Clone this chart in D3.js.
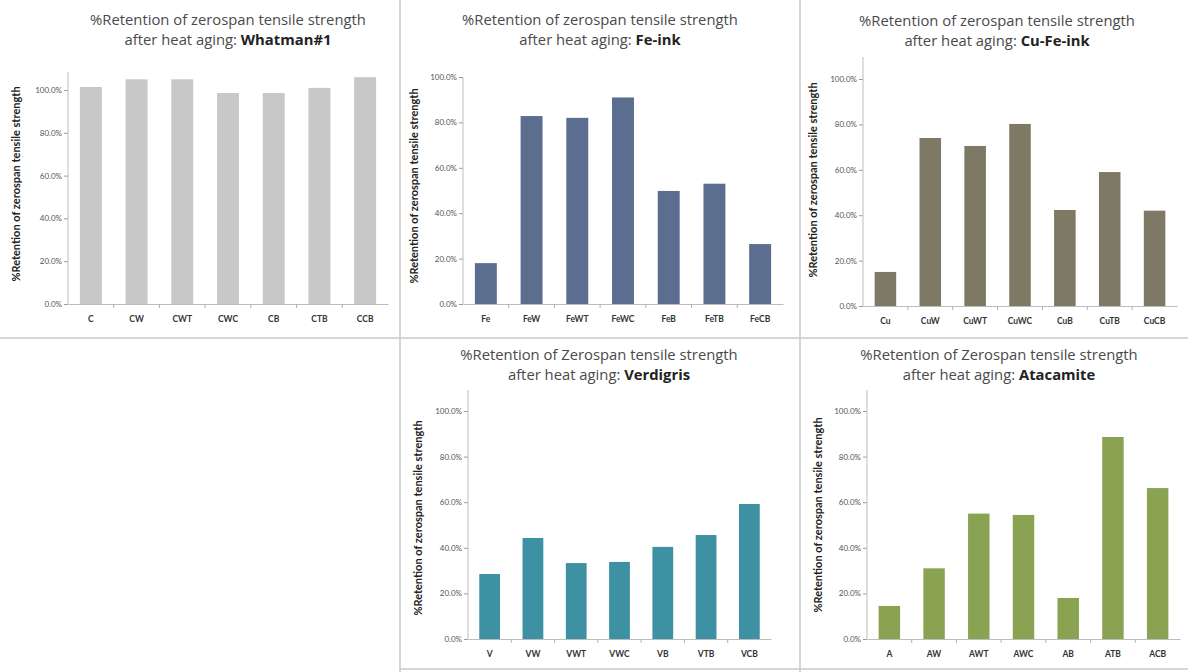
<!DOCTYPE html>
<html>
<head>
<meta charset="utf-8">
<script src="https://cdn.jsdelivr.net/npm/d3@7"></script>
<style>
  html, body { margin: 0; padding: 0; background: #ffffff; }
  svg { display: block; }
</style>
</head>
<body>
<svg id="chart" width="1188" height="672"></svg>
<script>
// ---------------- DATA ----------------
const yTickValues = [0, 0.2, 0.4, 0.6, 0.8, 1.0];

const whatmanCategories = ["C", "CW", "CWT", "CWC", "CB", "CTB", "CCB"];
const whatmanValues = [1.014, 1.05, 1.05, 0.986, 0.986, 1.01, 1.06];

const feCategories = ["Fe", "FeW", "FeWT", "FeWC", "FeB", "FeTB", "FeCB"];
const feValues = [0.18, 0.828, 0.82, 0.91, 0.498, 0.53, 0.264];

const cuFeCategories = ["Cu", "CuW", "CuWT", "CuWC", "CuB", "CuTB", "CuCB"];
const cuFeValues = [0.15, 0.74, 0.705, 0.802, 0.423, 0.59, 0.42];

const verdigrisCategories = ["V", "VW", "VWT", "VWC", "VB", "VTB", "VCB"];
const verdigrisValues = [0.285, 0.443, 0.333, 0.338, 0.404, 0.456, 0.592];

const atacamiteCategories = ["A", "AW", "AWT", "AWC", "AB", "ATB", "ACB"];
const atacamiteValues = [0.145, 0.31, 0.55, 0.544, 0.18, 0.886, 0.662];

const titleLine1 = ["%Retention of zerospan tensile strength",
                    "%Retention of zerospan tensile strength",
                    "%Retention of zerospan tensile strength",
                    "%Retention of Zerospan tensile strength",
                    "%Retention of Zerospan tensile strength"];
const titlePrefix = "after heat aging: ";
const materialNames = ["Whatman#1", "Fe-ink", "Cu-Fe-ink", "Verdigris", "Atacamite"];
const yAxisTitle = "%Retention of zerospan tensile strength";

// ---------------- LAYOUT / STYLE ----------------
const panels = [
  { cats: whatmanCategories, vals: whatmanValues, color: "#c8c8c8",
    x0: 68, x1: 388, yZero: 304, yFull: 90, axisTop: 72, yTitleX: 15, yTitleY: 184, tcx: 228, ty: 25 },
  { cats: feCategories, vals: feValues, color: "#5c6e8f",
    x0: 463, x1: 783, yZero: 304, yFull: 77, axisTop: 77, yTitleX: 413, yTitleY: 186, tcx: 600, ty: 25 },
  { cats: cuFeCategories, vals: cuFeValues, color: "#7e7964",
    x0: 863, x1: 1177, yZero: 306, yFull: 79, axisTop: 57, yTitleX: 812, yTitleY: 180, tcx: 997, ty: 26 },
  { cats: verdigrisCategories, vals: verdigrisValues, color: "#3d91a3",
    x0: 468, x1: 771, yZero: 639, yFull: 411, axisTop: 390, yTitleX: 417, yTitleY: 518, tcx: 599, ty: 360 },
  { cats: atacamiteCategories, vals: atacamiteValues, color: "#8aa352",
    x0: 867, x1: 1180, yZero: 639, yFull: 411, axisTop: 390, yTitleX: 817, yTitleY: 515, tcx: 999, ty: 360 }
];

const svg = d3.select("#chart");
const fontFam = "Lato, 'Liberation Sans', Arial, sans-serif";
const titleFam = "'Open Sans', Lato, 'Liberation Sans', Arial, sans-serif";
const fmt = d3.format(".1%");

// panel borders
const borders = [
  [0, 338, 1188, 338],
  [400, 0, 400, 672],
  [800, 0, 800, 672],
  [400, 669, 1188, 669]
];
svg.append("g").selectAll("line").data(borders).join("line")
  .attr("x1", d => d[0]).attr("y1", d => d[1])
  .attr("x2", d => d[2]).attr("y2", d => d[3])
  .attr("stroke", "#c8c8c8").attr("stroke-width", 1.5);

panels.forEach((p, i) => {
  const g = svg.append("g");
  const x = d3.scaleBand().domain(p.cats).range([p.x0, p.x1])
    .paddingInner(0.52).paddingOuter(0.26);
  const y = d3.scaleLinear().domain([0, 1]).range([p.yZero, p.yFull]);
  const yTopVal = y.invert(p.axisTop);

  // bars
  g.selectAll("rect").data(p.vals).join("rect")
    .attr("x", (d, j) => x(p.cats[j]))
    .attr("width", x.bandwidth())
    .attr("y", d => y(d))
    .attr("height", d => y(0) - y(d))
    .attr("fill", p.color);

  // y axis
  const yAxis = d3.axisLeft(y).tickValues(yTickValues).tickFormat(fmt).tickSize(4).tickSizeOuter(0);
  const ya = g.append("g").attr("transform", `translate(${p.x0},0)`).call(yAxis);
  ya.select(".domain").remove();
  ya.append("line").attr("x1", 0).attr("x2", 0)
    .attr("y1", y(0)).attr("y2", y(yTopVal)).attr("stroke", "#bdbdbd");
  ya.selectAll(".tick line").attr("stroke", "#9a9a9a");
  ya.selectAll(".tick text").attr("fill", "#555").attr("font-size", 8)
    .attr("font-family", fontFam).attr("x", -6);

  // x axis
  const xAxis = d3.axisBottom(x).tickSize(0).tickSizeOuter(0);
  const xa = g.append("g").attr("transform", `translate(0,${p.yZero})`).call(xAxis);
  xa.select(".domain").attr("stroke", "#bdbdbd");
  xa.selectAll(".tick text").attr("fill", "#333").attr("font-size", 8.5)
    .attr("font-family", fontFam).attr("font-weight", "bold").attr("dy", "1.75em");
  // separator ticks between categories
  const step = x.step();
  const seps = p.cats.slice(0, -1).map(c => x(c) + x.bandwidth() + (step - x.bandwidth()) / 2);
  xa.selectAll(".sep").data(seps).join("line").attr("class", "sep")
    .attr("x1", d => d).attr("x2", d => d).attr("y1", 0).attr("y2", 4)
    .attr("stroke", "#b0b0b0");

  // y axis title
  g.append("text")
    .attr("transform", `translate(${p.yTitleX},${p.yTitleY}) rotate(-90)`)
    .attr("text-anchor", "middle").attr("dominant-baseline", "central")
    .attr("font-family", fontFam).attr("font-size", 11).attr("font-weight", "bold")
    .attr("fill", "#222").text(yAxisTitle);

  // title
  const t = g.append("text").attr("text-anchor", "middle")
    .attr("font-family", titleFam).attr("font-size", 14.8).attr("fill", "#4a4a4a");
  t.append("tspan").attr("x", p.tcx).attr("y", p.ty).text(titleLine1[i]);
  const t2 = t.append("tspan").attr("x", p.tcx).attr("y", p.ty + 20);
  t2.append("tspan").text(titlePrefix);
  t2.append("tspan").attr("font-weight", "bold").attr("fill", "#222").text(materialNames[i]);
});
</script>
</body>
</html>
